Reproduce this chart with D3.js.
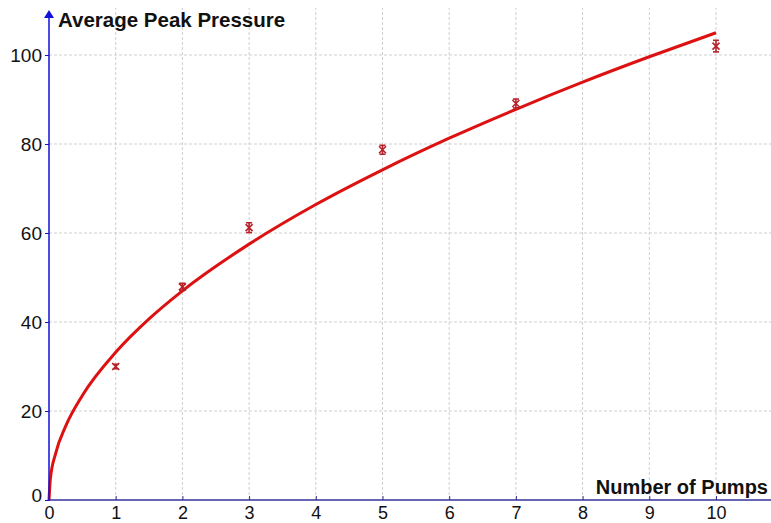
<!DOCTYPE html>
<html><head><meta charset="utf-8">
<script src="https://cdn.jsdelivr.net/npm/d3@7"></script>
<style>body{margin:0;background:#fff}svg{display:block;font-family:"Liberation Sans",Arial,sans-serif}</style>
</head><body><svg id="c" width="771" height="523"></svg>
<script>
const pumps = [1, 2, 3, 5, 7, 10];
const pressure = [30, 47.9, 61.2, 78.7, 89.1, 102];
const errors = [0.5, 0.8, 1.1, 1.0, 1.0, 1.3];
const curveX = [0, 0.02, 0.1, 0.25, 0.5, 1, 1.5, 2, 3, 4, 5, 6, 7, 8, 9, 10];
const curveY = [0, 4.7, 10.5, 16.6, 23.5, 33.2, 40.7, 47, 57.5, 66.4, 74.2, 81.3, 87.8, 93.9, 99.6, 105];
const xTicks = [0,1,2,3,4,5,6,7,8,9,10];
const yTicks = [0,20,40,60,80,100];
const xGrid = [1,2,3,4,5,6,7,8,9,10,11];

const svg = d3.select("#c");
const x = d3.scaleLinear().domain([0,10]).range([49,716]);
const y = d3.scaleLinear().domain([0,100]).range([500,55]);

// grid
svg.append("g").selectAll("line").data(xGrid).join("line")
  .attr("x1",d=>x(d)).attr("x2",d=>x(d)).attr("y1",500).attr("y2",8)
  .attr("stroke","#cfcfcf").attr("stroke-dasharray","3,2");
svg.append("g").selectAll("line").data(yTicks.slice(1)).join("line")
  .attr("x1",49).attr("x2",771).attr("y1",d=>y(d)).attr("y2",d=>y(d))
  .attr("stroke","#cfcfcf").attr("stroke-dasharray","3,2");

// curve
const pts = curveX.map((v,i)=>[v,curveY[i]]);
svg.append("path").datum(pts)
  .attr("d", d3.line().x(d=>x(d[0])).y(d=>y(d[1])).curve(d3.curveMonotoneX))
  .attr("fill","none").attr("stroke","#dd1111").attr("stroke-width",3);

// axes
const xa = svg.append("g").attr("transform","translate(0,500)")
  .call(d3.axisBottom(x).tickValues(xTicks).tickSize(-4).tickPadding(0).tickFormat(d3.format("d")));
xa.select(".domain").remove();
xa.selectAll("line").attr("stroke","#333399");
xa.selectAll("text").attr("font-size",18).attr("fill","#111").attr("y",19).attr("dy",null);
svg.append("line").attr("x1",49).attr("x2",771).attr("y1",500).attr("y2",500).attr("stroke","#333399").attr("stroke-width",1.5);

const ya = svg.append("g").attr("transform","translate(49,0)")
  .call(d3.axisLeft(y).tickValues(yTicks).tickSize(4).tickPadding(3));
ya.select(".domain").remove();
ya.selectAll("line").attr("stroke","#1111cc");
ya.selectAll("text").attr("font-size",19).attr("fill","#111");
ya.selectAll(".tick").filter(d=>d===0).select("text").attr("dy","0.1em");
svg.append("line").attr("x1",49).attr("x2",49).attr("y1",501).attr("y2",16).attr("stroke","#1111dd").attr("stroke-width",1.5);
svg.append("path").attr("d","M49,10 L44,18 L54,18 Z").attr("fill","#1111dd");

// points
const g = svg.append("g").attr("stroke","#b82028").attr("stroke-width",1.6).attr("fill","none");
pumps.forEach((p,i)=>{
  const cx = x(p), cy = y(pressure[i]);
  const t = y(pressure[i]+errors[i]), b = y(pressure[i]-errors[i]);
  g.append("line").attr("x1",cx).attr("x2",cx).attr("y1",t).attr("y2",b);
  g.append("line").attr("x1",cx-3).attr("x2",cx+3).attr("y1",t).attr("y2",t);
  g.append("line").attr("x1",cx-3).attr("x2",cx+3).attr("y1",b).attr("y2",b);
  g.append("path").attr("d",`M${cx-3.5},${cy-3.5}L${cx+3.5},${cy+3.5}M${cx-3.5},${cy+3.5}L${cx+3.5},${cy-3.5}`);
});

// titles
svg.append("text").attr("x",58).attr("y",27).attr("font-size",20.5).attr("font-weight","bold").attr("fill","#111").text("Average Peak Pressure");
svg.append("text").attr("x",768).attr("y",494).attr("text-anchor","end").attr("font-size",20).attr("font-weight","bold").attr("fill","#111").text("Number of Pumps");
</script></body></html>
